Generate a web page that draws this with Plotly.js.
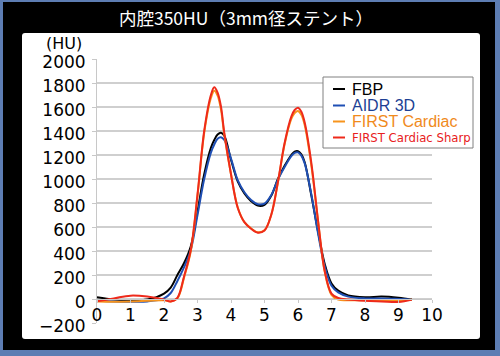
<!DOCTYPE html>
<html>
<head>
<meta charset="utf-8">
<script src="https://cdn.plot.ly/plotly-3.0.1.min.js"></script>
<style>
  html, body { margin: 0; padding: 0; width: 500px; height: 356px; overflow: hidden; background: #5d7db3; }
  #frame { position: absolute; left: 3px; top: 2px; width: 492px; height: 348px; background: #000; }
  #panel { position: absolute; left: 22px; top: 33px; width: 458px; height: 306px; background: #fff; border-radius: 3px; }
  #chart { position: absolute; left: 0; top: 0; width: 500px; height: 356px; }
</style>
</head>
<body>
<div id="frame"></div>
<div id="panel"></div>
<div id="chart"></div>
<script>
// Position along the stent profile (mm)
const xPos = [0, 0.5, 1.0, 1.5, 2.0, 2.2, 2.4, 2.6, 2.8, 3.0, 3.2, 3.4, 3.5, 3.6, 3.7, 3.8, 4.0, 4.2, 4.4, 4.6, 4.8, 5.0, 5.2, 5.4, 5.6, 5.8, 5.9, 6.0, 6.1, 6.2, 6.4, 6.6, 6.8, 7.0, 7.2, 7.5, 8.0, 8.5, 9.0, 9.4];

// CT values (HU)
const fbp        = [15, -5, -12, -5, 45, 95, 200, 300, 440, 730, 1040, 1260, 1325, 1370, 1385, 1360, 1160, 980, 880, 815, 778, 785, 860, 1000, 1110, 1200, 1228, 1232, 1205, 1140, 860, 560, 290, 130, 70, 30, 15, 20, 10, -5];
const aidr3d     = [-15, -20, -22, -20, 5, 50, 150, 265, 410, 700, 1000, 1220, 1288, 1335, 1347, 1325, 1170, 990, 890, 825, 790, 795, 865, 995, 1100, 1190, 1218, 1222, 1195, 1130, 870, 545, 270, 110, 55, 20, 5, 5, 0, -5];
const firstCard  = [-20, -22, -20, -15, -10, -20, 5, 180, 400, 860, 1385, 1675, 1736, 1695, 1580, 1370, 1040, 765, 640, 588, 556, 572, 700, 970, 1290, 1500, 1550, 1567, 1535, 1450, 1110, 645, 225, 35, -5, -10, -10, -15, -15, -5];
const firstSharp = [-18, 5, 28, 20, -5, -20, 10, 190, 410, 870, 1400, 1700, 1764, 1720, 1605, 1385, 1040, 760, 640, 585, 552, 570, 700, 975, 1300, 1520, 1575, 1594, 1560, 1470, 1130, 650, 230, 45, 8, -5, -15, -20, -25, -5];

const seriesNames = ['FBP', 'AIDR 3D', 'FIRST Cardiac', 'FIRST Cardiac Sharp'];
const seriesData = [fbp, aidr3d, firstCard, firstSharp];
const seriesColors = ['#000000', '#1f4fb4', '#f7941d', '#ee2a1b'];
const legendTextColors = ['#000000', '#1c3f94', '#f08a1c', '#e8201c'];

const xTicks = [0, 1, 2, 3, 4, 5, 6, 7, 8, 9, 10];
const yTicks = [-200, 0, 200, 400, 600, 800, 1000, 1200, 1400, 1600, 1800, 2000];
const yTickText = ['\u2212200', '0', '200', '400', '600', '800', '1000', '1200', '1400', '1600', '1800', '2000'];

const numFont = { family: 'DejaVu Sans, sans-serif', size: 17, color: '#000' };

// plot-area geometry (pixels) used to place the in-plot legend box
const M = { l: 97, r: 68, t: 59, b: 33 };
const PW = 500 - M.l - M.r, PH = 356 - M.t - M.b;
const px2x = p => (p - M.l) / PW;
const py2y = p => (356 - M.b - p) / PH;

const traces = seriesData.map((ys, i) => ({
  x: xPos, y: ys, type: 'scatter', mode: 'lines',
  name: seriesNames[i], showlegend: false,
  line: { color: seriesColors[i], width: 2, shape: 'spline', smoothing: 1 },
  hoverinfo: 'skip'
}));

// legend drawn as a boxed key inside the plot (row pitch as in reference)
const legRows = [89, 105.5, 121.5, 137.5];
const shapes = [{
  type: 'rect', xref: 'paper', yref: 'paper',
  x0: px2x(323), x1: px2x(473), y0: py2y(148), y1: py2y(77),
  fillcolor: '#ffffff', line: { color: '#808080', width: 1 }, layer: 'above'
}];
const annotations = [{
  text: '(HU)', xref: 'paper', yref: 'paper',
  x: px2x(64), y: py2y(43.5), xanchor: 'center', yanchor: 'middle',
  showarrow: false, font: { family: 'DejaVu Sans, sans-serif', size: 16, color: '#000' }
}];
seriesNames.forEach((nm, i) => {
  shapes.push({
    type: 'line', xref: 'paper', yref: 'paper',
    x0: px2x(333), x1: px2x(345), y0: py2y(legRows[i]), y1: py2y(legRows[i]),
    line: { color: seriesColors[i], width: 2 }, layer: 'above'
  });
  const last = i === seriesNames.length - 1;
  annotations.push({
    text: nm, xref: 'paper', yref: 'paper',
    x: px2x(350), y: py2y(legRows[i]), xanchor: 'left', yanchor: 'middle',
    showarrow: false,
    font: last
      ? { family: 'DejaVu Sans Condensed, sans-serif', size: 13, color: legendTextColors[i] }
      : { family: 'Liberation Sans, Arial, sans-serif', size: 16, color: legendTextColors[i] }
  });
});

const layout = {
  width: 500, height: 356,
  margin: { l: M.l, r: M.r, t: M.t, b: M.b, autoexpand: false },
  paper_bgcolor: 'rgba(0,0,0,0)',
  plot_bgcolor: 'rgba(0,0,0,0)',
  title: {
    text: '内腔350HU（3mm径ステント）',
    font: { family: 'Noto Sans CJK JP, sans-serif', size: 17.5, color: '#ffffff' },
    x: 0.492, xanchor: 'center', y: 0.948, yanchor: 'middle'
  },
  xaxis: {
    range: [0, 10], tickvals: xTicks, ticktext: xTicks.map(String),
    anchor: 'free', position: 200 / 2200,
    showgrid: false, zeroline: false,
    showline: true, linecolor: '#c8c8c8', linewidth: 1,
    ticks: 'outside', ticklen: 3, tickcolor: '#c8c8c8',
    ticklabelstandoff: -2,
    tickfont: numFont, fixedrange: true
  },
  yaxis: {
    range: [-200, 2000], tickvals: yTicks, ticktext: yTickText,
    showgrid: true, gridcolor: '#cfcfcf', gridwidth: 1.5,
    zeroline: false,
    showline: true, linecolor: '#c8c8c8', linewidth: 1,
    ticks: 'outside', ticklen: 4, tickcolor: '#c8c8c8',
    ticklabelstandoff: 3, ticklabelshift: 3,
    tickfont: numFont, fixedrange: true
  },
  showlegend: false,
  shapes: shapes,
  annotations: annotations
};

Plotly.newPlot('chart', traces, layout, { staticPlot: true, displayModeBar: false });
</script>
</body>
</html>
